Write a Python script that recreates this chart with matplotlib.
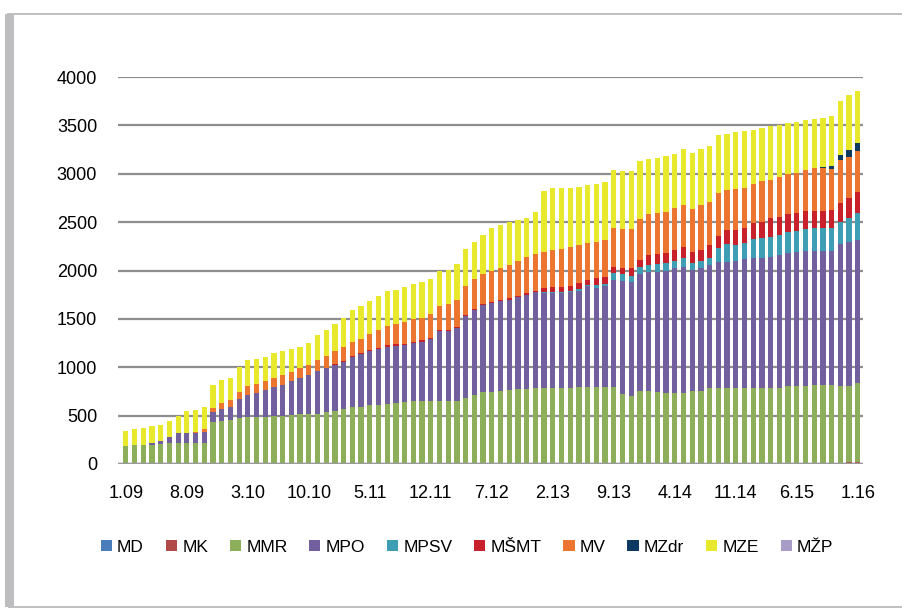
import matplotlib
matplotlib.use("Agg")
import matplotlib.pyplot as plt
from matplotlib.patches import Rectangle, Patch

plt.rcParams['font.family'] = ['Liberation Sans', 'DejaVu Sans']

# months 1.09 .. 1.16
months = [f"{m}.{y:02d}" for y in range(9, 17) for m in range(1, 13)][:85]

MD = [0] * 76 + [10] * 9
MK = [0] * 83 + [8, 8]
MMR = [184, 200, 200, 200, 208, 218, 218, 218, 218, 218,
       429, 446, 459, 480, 486, 486, 490, 495, 500, 503,
       520, 520, 520, 536, 546, 568, 585, 585, 605, 612,
       622, 629, 636, 646, 653, 653, 653, 653, 653, 687,
       714, 741, 748, 755, 765, 772, 775, 782, 789, 789,
       789, 789, 799, 796, 796, 796, 796, 720, 703, 755,
       755, 748, 737, 737, 737, 755, 755, 782, 782, 782,
       782, 782, 782, 789, 789, 789, 796, 796, 796, 806,
       806, 806, 796, 789, 816]
MPO = [0, 0, 0, 15, 33, 57, 100, 100, 107, 114,
       107, 124, 127, 190, 231, 250, 280, 300, 320, 350,
       370, 400, 440, 460, 480, 486, 520, 554, 558, 578,
       592, 595, 595, 602, 612, 639, 717, 717, 751, 843,
       877, 898, 918, 928, 935, 955, 976, 993, 979, 981,
       981, 986, 990, 1039, 1022, 1039, 1108, 1167, 1177, 1207,
       1234, 1241, 1259, 1287, 1304, 1252, 1276, 1276, 1303, 1310,
       1317, 1334, 1345, 1345, 1355, 1372, 1372, 1382, 1392, 1389,
       1389, 1389, 1468, 1492, 1482]
MPSV = [0] * 48 + [10, 10, 12, 12, 17, 17, 27, 24, 68, 75,
                   68, 79, 69, 76, 79, 75, 86, 68, 68, 76,
                   145, 179, 165, 165, 199, 205, 206, 206, 216, 223,
                   230, 233, 233, 233, 223, 240, 274]
MSMT = [0] * 24 + [12] * 24 + [41, 49, 50, 50, 60, 50, 76, 70, 69, 69,
                               76, 68, 103, 103, 103, 113, 120, 120, 113, 130,
                               130, 147, 154, 154, 161, 165, 195, 188, 195, 188,
                               189, 179, 179, 189, 205, 206, 223]
MV = [0, 0, 0, 0, 0, 0, 0, 0, 10, 26,
      44, 60, 74, 75, 86, 90, 90, 95, 100, 100,
      100, 100, 110, 120, 130, 141, 141, 141, 168, 182,
      202, 209, 226, 243, 236, 243, 250, 267, 284, 301,
      308, 314, 321, 328, 345, 362, 372, 382, 374, 381,
      395, 407, 400, 379, 377, 386, 401, 397, 404, 422,
      418, 422, 429, 436, 435, 439, 463, 439, 446, 412,
      429, 419, 411, 418, 388, 412, 412, 412, 418, 446,
      439, 419, 436, 429, 422]
MZdr = [0] * 80 + [12, 30, 60, 75, 82]
MZE = [158, 162, 168, 177, 161, 174, 174, 225, 228, 228,
       234, 234, 234, 255, 277, 264, 250, 260, 250, 237,
       220, 230, 260, 264, 274, 306, 330, 340, 340, 357,
       357, 357, 360, 360, 364, 367, 367, 357, 367, 384,
       384, 398, 441, 447, 443, 419, 405, 431, 627, 640,
       623, 606, 594, 600, 600, 600, 593, 597, 597, 597,
       570, 572, 576, 559, 570, 583, 584, 583, 590, 583,
       583, 586, 552, 548, 557, 533, 519, 529, 525, 507,
       512, 524, 552, 569, 541]
MZP = [0] * 85

series = [('MD', MD, '#4A7EBB'), ('MK', MK, '#B04A48'), ('MMR', MMR, '#8DAF5B'),
          ('MPO', MPO, '#72609E'), ('MPSV', MPSV, '#3E9FB4'), ('MŠMT', MSMT, '#C8212B'),
          ('MV', MV, '#EC7630'), ('MZdr', MZdr, '#0D3A60'), ('MZE', MZE, '#E8E82C'),
          ('MŽP', MZP, '#A69CC6')]

fig = plt.figure(figsize=(9.02, 6.15), dpi=100)

# outer chart frame
fig.patches.append(Rectangle((8 / 902, 1 - 607 / 615), 1.0, (607 - 14) / 615,
                             transform=fig.transFigure, fill=False,
                             edgecolor='#B4B4B6', linewidth=1.2))
fig.patches.append(Rectangle((5 / 902, 1 - 607 / 615), 9 / 902, (607 - 14) / 615,
                             transform=fig.transFigure, color='#BDBDC0', linewidth=0))

ax = fig.add_axes([118 / 902, 1 - 464 / 615, (863 - 118) / 902, (464 - 77) / 615])

x = range(len(months))
bottom = [0] * len(months)
for name, vals, col in series:
    ax.bar(x, vals, width=0.6, bottom=bottom, color=col, linewidth=0, zorder=3)
    bottom = [b + v for b, v in zip(bottom, vals)]

ax.set_ylim(0, 4000)
ax.set_xlim(-0.9, 84.6)
ax.set_yticks(range(0, 4001, 500))
ax.set_xticks(range(0, 85, 7))
ax.set_xticklabels(months[::7])
ax.yaxis.grid(True, color='#8E8E8E', linewidth=1.6, zorder=0)
ax.axhline(0, color='#9A9A9A', linewidth=2.5, zorder=4)
for s in ax.spines.values():
    s.set_visible(False)
ax.tick_params(length=0, labelsize=13, colors='black')
ax.tick_params(axis='y', pad=15)
ax.tick_params(axis='x', pad=15)

handles = [Patch(facecolor=c, edgecolor='none') for _, _, c in series]
fig.legend(handles, [n for n, _, _ in series], loc='center', ncol=10,
           bbox_to_anchor=(467 / 902, 1 - 547 / 615), frameon=False, fontsize=12.5,
           handlelength=0.65, handleheight=0.65, handletextpad=0.3, columnspacing=1.25)

fig.savefig('out.png', dpi=100)
